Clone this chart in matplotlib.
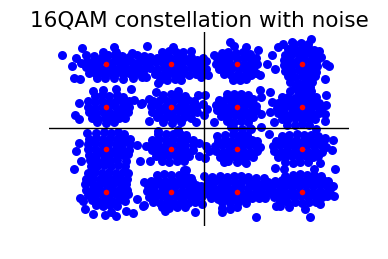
import matplotlib
matplotlib.use('Agg')
import matplotlib.pyplot as plt

# ideal 16QAM symbols (I, Q)
sym_i = [-3, -1, 1, 3, -3, -1, 1, 3, -3, -1, 1, 3, -3, -1, 1, 3]
sym_q = [3, 3, 3, 3, 1, 1, 1, 1, -1, -1, -1, -1, -3, -3, -3, -3]

# received samples, as offsets from their symbol
noise_m3_p3 = [(-0.36,0.40),(-0.12,0.36),(0.06,0.42),(0.27,0.37),(0.47,0.41),(0.70,0.36),(0.93,0.42),(1.15,0.38),
    (-0.60,0.14),(-0.41,0.10),(-0.19,0.15),(0.01,0.09),(0.21,0.13),(0.42,0.11),(0.61,0.15),(0.80,0.09),(1.01,0.13),(1.20,0.10),
    (-0.63,-0.13),(-0.43,-0.17),(-0.21,-0.12),(-0.02,-0.16),(0.18,-0.13),(0.39,-0.18),(0.58,-0.12),(0.79,-0.16),(0.99,-0.14),(1.19,-0.18),
    (-0.52,-0.40),(-0.31,-0.44),(-0.09,-0.40),(0.11,-0.43),(0.31,-0.39),(0.51,-0.44),(0.71,-0.41),(0.91,-0.43),(1.12,-0.40),
    (-0.28,-0.64),(-0.04,-0.66),(0.24,-0.63),(0.52,-0.67),(0.83,-0.64),(1.10,-0.62),
    (-1.35,0.42),(-0.74,0.77),(-0.94,0.30),(-1.04,-0.09),(-0.99,-0.63),(-0.79,-0.67),(0.23,0.81),(0.80,0.55),
    (0.30,0.58),(-0.10,0.60),(-0.62,0.45),(-0.78,0.05)]
noise_m1_p3 = [(-0.30,0.58),(-0.08,0.62),(0.14,0.57),(0.36,0.60),
    (-0.66,0.34),(-0.45,0.30),(-0.24,0.36),(-0.03,0.31),(0.18,0.35),(0.40,0.30),(0.60,0.33),(0.78,0.22),
    (-0.68,0.06),(-0.47,0.09),(-0.26,0.04),(-0.05,0.08),(0.16,0.05),(0.37,0.09),(0.58,0.04),(0.78,0.07),(0.92,0.02),
    (-0.65,-0.19),(-0.44,-0.23),(-0.23,-0.18),(-0.02,-0.22),(0.19,-0.19),(0.40,-0.23),(0.61,-0.18),(0.82,-0.21),(0.93,-0.30),
    (-0.50,-0.46),(-0.30,-0.50),(-0.09,-0.45),(0.12,-0.49),(0.33,-0.46),(0.54,-0.50),(0.74,-0.45),
    (-0.35,-0.72),(-0.12,-0.76),(0.10,-0.70),(0.30,-0.73),
    (-0.74,0.86),(0.06,0.81),(1.06,-0.20),(-0.40,-0.90),(0.60,0.62),(0.98,0.30),(0.90,-0.62),(-0.78,-0.62)]
noise_p1_p3 = [(-0.45,0.52),(-0.25,0.58),(-0.02,0.55),(0.20,0.57),(0.42,0.50),
    (-0.60,0.30),(-0.40,0.27),(-0.19,0.32),(0.02,0.28),(0.23,0.31),(0.44,0.27),(0.60,0.30),
    (-0.62,0.03),(-0.41,0.06),(-0.20,0.01),(0.01,0.05),(0.22,0.02),(0.43,0.06),(0.62,0.02),
    (-0.55,-0.21),(-0.34,-0.24),(-0.13,-0.19),(0.08,-0.23),(0.29,-0.20),(0.50,-0.24),(0.60,-0.40),
    (-0.38,-0.47),(-0.17,-0.50),(0.04,-0.46),(0.25,-0.49),(0.45,-0.52),
    (-0.12,-0.72),(0.10,-0.76),(0.30,-0.70),
    (-0.20,1.05),(-0.08,0.86),(0.28,0.81),(0.94,0.03),(-0.95,0.14),(-1.00,-0.33),(-0.88,-0.50),
    (-1.05,0.03),(0.72,-0.52),(0.65,0.66),(-0.70,0.45)]
noise_p3_p3 = [(-0.25,0.95),(-0.03,0.98),(0.19,0.94),
    (-0.42,0.70),(-0.22,0.74),(0.00,0.70),(0.22,0.73),(0.38,0.68),
    (-0.52,0.45),(-0.31,0.48),(-0.10,0.43),(0.11,0.47),(0.32,0.44),(0.46,0.48),
    (-0.56,0.19),(-0.35,0.22),(-0.14,0.17),(0.07,0.21),(0.28,0.18),(0.46,0.22),
    (-0.55,-0.05),(-0.34,-0.08),(-0.13,-0.03),(0.08,-0.07),(0.29,-0.04),(0.46,-0.08),
    (-0.50,-0.31),(-0.29,-0.34),(-0.08,-0.29),(0.13,-0.33),(0.34,-0.30),(0.45,-0.36),
    (-0.42,-0.57),(-0.21,-0.60),(0.00,-0.55),(0.21,-0.59),(0.40,-0.56),
    (-0.35,-0.83),(-0.12,-0.86),(0.10,-0.82),(0.30,-0.85),
    (-0.20,-1.08),(0.05,-1.10),(0.25,-1.06),
    (-0.74,0.81),(-0.58,0.97),(-0.31,1.05),(0.28,1.20),(0.74,0.03),(0.82,-0.09),(-0.92,0.42),
    (-0.82,-0.20),(0.60,0.35),(0.70,-0.70),(0.52,0.62)]
noise_m3_p1 = [(-0.35,0.50),(-0.12,0.54),(0.10,0.49),(0.32,0.53),(0.52,0.48),
    (-0.55,0.25),(-0.34,0.22),(-0.13,0.27),(0.08,0.21),(0.29,0.26),(0.50,0.22),(0.70,0.25),
    (-0.56,-0.01),(-0.35,-0.04),(-0.14,0.01),(0.07,-0.03),(0.28,0.02),(0.49,-0.04),(0.70,0.00),
    (-0.52,-0.27),(-0.31,-0.30),(-0.10,-0.26),(0.11,-0.29),(0.32,-0.25),(0.53,-0.30),(0.68,-0.26),
    (-0.45,-0.53),(-0.24,-0.56),(-0.03,-0.52),(0.18,-0.55),(0.39,-0.52),(0.58,-0.55),
    (-0.28,-0.74),(0.00,-0.77),(0.25,-0.73),
    (-0.41,0.72),(-0.10,0.81),(0.30,0.85),(0.77,0.84),(-0.82,0.17),(-0.95,-0.41),(-0.84,-0.59),
    (1.10,0.17),(0.86,0.30)]
noise_m1_p1 = [(-0.25,0.56),(-0.02,0.60),(0.20,0.55),(0.42,0.52),
    (-0.55,0.28),(-0.34,0.32),(-0.13,0.27),(0.08,0.31),(0.29,0.28),(0.50,0.32),(0.70,0.27),
    (-0.62,0.02),(-0.41,0.05),(-0.20,0.00),(0.01,0.04),(0.22,0.01),(0.43,0.05),(0.64,0.01),(0.80,0.04),
    (-0.60,-0.23),(-0.39,-0.26),(-0.18,-0.21),(0.03,-0.25),(0.24,-0.22),(0.45,-0.26),(0.66,-0.22),(0.80,-0.27),
    (-0.45,-0.49),(-0.24,-0.53),(-0.03,-0.48),(0.18,-0.52),(0.39,-0.49),(0.60,-0.53),
    (-0.25,-0.73),(0.02,-0.76),(0.28,-0.72),
    (-0.93,0.14),(-0.70,0.38),(-0.47,0.69),(0.19,0.76),(0.81,0.53),(0.96,0.14),(1.01,-0.40),
    (0.75,-0.72),(-0.68,-0.65)]
noise_p1_p1 = [(-0.30,0.58),(-0.08,0.62),(0.14,0.58),(0.34,0.55),
    (-0.55,0.32),(-0.34,0.36),(-0.13,0.31),(0.08,0.35),(0.29,0.32),(0.50,0.36),
    (-0.62,0.07),(-0.41,0.10),(-0.20,0.05),(0.01,0.09),(0.22,0.06),(0.43,0.10),(0.60,0.05),
    (-0.60,-0.17),(-0.39,-0.20),(-0.18,-0.15),(0.03,-0.19),(0.24,-0.16),(0.45,-0.20),(0.58,-0.14),
    (-0.48,-0.43),(-0.27,-0.46),(-0.06,-0.41),(0.15,-0.45),(0.36,-0.42),(0.50,-0.47),
    (-0.30,-0.69),(-0.08,-0.72),(0.14,-0.68),(0.34,-0.71),
    (-0.90,-0.09),(0.73,0.77),(0.76,0.45),(-0.08,-1.03),(0.17,-1.06),(0.43,-1.03),(-0.98,0.53),
    (0.75,-0.35),(-0.70,-0.70)]
noise_p3_p1 = [(-0.35,0.72),(-0.12,0.76),(0.10,0.72),(0.28,0.74),
    (-0.62,0.44),(-0.41,0.48),(-0.20,0.43),(0.01,0.47),(0.22,0.44),(0.43,0.48),
    (-0.72,0.19),(-0.51,0.22),(-0.30,0.17),(-0.09,0.21),(0.12,0.18),(0.33,0.22),(0.52,0.17),
    (-0.76,-0.05),(-0.55,-0.08),(-0.34,-0.03),(-0.13,-0.07),(0.08,-0.04),(0.29,-0.08),(0.50,-0.03),(0.60,-0.10),
    (-0.72,-0.31),(-0.51,-0.34),(-0.30,-0.29),(-0.09,-0.33),(0.12,-0.30),(0.33,-0.34),(0.52,-0.30),
    (-0.62,-0.57),(-0.41,-0.60),(-0.20,-0.55),(0.01,-0.59),(0.22,-0.56),(0.42,-0.60),
    (-0.45,-0.84),(-0.22,-0.87),(0.00,-0.83),(0.22,-0.86),
    (-0.97,0.69),(-0.92,0.22),(-0.97,-0.25),(0.74,0.56),(0.74,0.06),(0.72,-0.33),(0.72,-0.69),
    (-0.85,-0.70),(0.45,-1.05)]
noise_m3_m1 = [(-0.30,0.76),(-0.08,0.80),(0.14,0.77),(0.36,0.79),(0.55,0.72),
    (-0.52,0.50),(-0.31,0.54),(-0.10,0.49),(0.11,0.53),(0.32,0.50),(0.53,0.54),(0.74,0.50),
    (-0.55,0.25),(-0.34,0.28),(-0.13,0.23),(0.08,0.27),(0.29,0.24),(0.50,0.28),(0.74,0.24),
    (-0.56,-0.01),(-0.35,0.02),(-0.14,-0.03),(0.07,0.01),(0.28,-0.02),(0.49,0.02),(0.70,-0.02),
    (-0.53,-0.25),(-0.32,-0.28),(-0.11,-0.23),(0.10,-0.27),(0.31,-0.24),(0.52,-0.28),(0.66,-0.22),
    (-0.50,-0.51),(-0.29,-0.54),(-0.08,-0.49),(0.13,-0.53),(0.34,-0.50),(0.60,-0.54),
    (-0.48,-0.77),(-0.27,-0.80),(-0.06,-0.75),(0.15,-0.79),(0.36,-0.76),(0.58,-0.80),
    (-0.82,0.30),(-0.92,-0.09),(-0.77,-0.56),(-1.00,-0.91),(1.03,-0.56),(0.94,0.22),(-0.60,0.78)]
noise_m1_m1 = [(-0.40,0.70),(-0.18,0.74),(0.04,0.70),(0.26,0.73),(0.46,0.68),
    (-0.58,0.44),(-0.37,0.48),(-0.16,0.43),(0.05,0.47),(0.26,0.44),(0.47,0.48),(0.66,0.44),
    (-0.62,0.19),(-0.41,0.22),(-0.20,0.17),(0.01,0.21),(0.22,0.18),(0.43,0.22),(0.66,0.18),
    (-0.60,-0.05),(-0.39,-0.08),(-0.18,-0.03),(0.03,-0.07),(0.24,-0.04),(0.45,-0.08),(0.66,-0.04),
    (-0.48,-0.31),(-0.27,-0.34),(-0.06,-0.29),(0.15,-0.33),(0.36,-0.30),(0.55,-0.34),
    (-0.30,-0.55),(-0.06,-0.58),(0.18,-0.54),(0.40,-0.57),
    (-0.42,0.84),(0.86,-0.33),(0.45,-0.98),(-0.65,-0.55),(0.85,0.30),(0.20,0.92),(-0.78,0.15)]
noise_p1_m1 = [(-0.35,0.66),(-0.12,0.70),(0.10,0.68),(0.32,0.65),
    (-0.58,0.40),(-0.37,0.44),(-0.16,0.39),(0.05,0.43),(0.26,0.40),(0.47,0.44),(0.62,0.38),
    (-0.66,0.15),(-0.45,0.18),(-0.24,0.13),(-0.03,0.17),(0.18,0.14),(0.39,0.18),(0.60,0.14),(0.72,0.10),
    (-0.64,-0.09),(-0.43,-0.12),(-0.22,-0.07),(-0.01,-0.11),(0.20,-0.08),(0.41,-0.12),(0.62,-0.08),
    (-0.52,-0.35),(-0.31,-0.38),(-0.10,-0.33),(0.11,-0.37),(0.32,-0.34),(0.50,-0.38),
    (-0.25,-0.55),(0.00,-0.58),(0.22,-0.54),
    (-0.59,0.61),(-0.85,-0.09),(-0.95,0.15),(-0.18,1.05),(0.40,1.00),(0.75,1.05),(0.30,-0.64),
    (-0.40,-0.60),(-0.96,-0.40)]
noise_p3_m1 = [(-0.60,0.64),(-0.38,0.68),(-0.16,0.72),(0.06,0.69),(0.28,0.66),(0.50,0.62),(0.70,0.55),
    (-0.80,0.40),(-0.59,0.44),(-0.38,0.39),(-0.17,0.43),(0.04,0.40),(0.25,0.44),(0.46,0.40),(0.67,0.44),
    (-0.88,0.15),(-0.67,0.18),(-0.46,0.13),(-0.25,0.17),(-0.04,0.14),(0.17,0.18),(0.38,0.14),(0.59,0.18),(0.74,0.12),
    (-0.86,-0.09),(-0.65,-0.12),(-0.44,-0.07),(-0.23,-0.11),(-0.02,-0.08),(0.19,-0.12),(0.40,-0.08),(0.61,-0.12),
    (-0.72,-0.35),(-0.51,-0.38),(-0.30,-0.33),(-0.09,-0.37),(0.12,-0.34),(0.33,-0.38),(0.50,-0.33),
    (-0.50,-0.60),(-0.28,-0.63),(-0.05,-0.59),(0.18,-0.62),
    (0.97,0.45),(0.56,-0.64),(0.36,-0.95),(1.02,-0.95),(-0.82,-0.88),(0.92,-0.05),(-0.55,-0.95),(-1.00,0.70)]
noise_m3_m3 = [(-0.55,0.88),(-0.34,0.92),(-0.13,0.87),(0.08,0.91),(0.29,0.88),(0.50,0.92),(0.66,0.86),
    (-0.62,0.62),(-0.41,0.65),(-0.20,0.60),(0.01,0.64),(0.22,0.61),(0.43,0.65),(0.64,0.61),
    (-0.64,0.36),(-0.43,0.39),(-0.22,0.34),(-0.01,0.38),(0.20,0.35),(0.41,0.39),(0.62,0.35),
    (-0.62,0.10),(-0.41,0.13),(-0.20,0.08),(0.01,0.12),(0.22,0.09),(0.43,0.13),(0.64,0.09),
    (-0.55,-0.14),(-0.34,-0.17),(-0.13,-0.12),(0.08,-0.16),(0.29,-0.13),(0.50,-0.17),(0.66,-0.12),
    (-0.45,-0.40),(-0.24,-0.43),(-0.03,-0.38),(0.18,-0.42),(0.39,-0.39),(0.58,-0.43),
    (-0.32,-0.65),(-0.10,-0.68),(0.12,-0.64),(0.34,-0.67),
    (-0.79,-0.28),(-0.66,-0.83),(-0.41,-1.03),(-0.05,-1.11),(0.31,-1.14),(0.61,-0.91),(0.82,-1.02),
    (1.12,-0.67),(0.94,-0.33),(-0.72,-0.45),(0.15,-0.95)]
noise_m1_m3 = [(-0.45,0.78),(-0.22,0.82),(0.00,0.78),(0.22,0.80),(0.44,0.74),
    (-0.62,0.52),(-0.41,0.56),(-0.20,0.51),(0.01,0.55),(0.22,0.52),(0.43,0.56),(0.64,0.52),
    (-0.72,0.27),(-0.51,0.30),(-0.30,0.25),(-0.09,0.29),(0.12,0.26),(0.33,0.30),(0.54,0.26),(0.75,0.30),(0.92,0.25),
    (-0.74,0.01),(-0.53,0.04),(-0.32,-0.01),(-0.11,0.03),(0.10,0.00),(0.31,0.04),(0.52,0.00),(0.73,0.04),(0.94,0.00),
    (-0.70,-0.23),(-0.49,-0.26),(-0.28,-0.21),(-0.07,-0.25),(0.14,-0.22),(0.35,-0.26),(0.56,-0.22),(0.77,-0.26),(0.94,-0.22),
    (-0.55,-0.49),(-0.34,-0.52),(-0.13,-0.47),(0.08,-0.51),(0.29,-0.48),(0.50,-0.52),(0.71,-0.47),
    (-0.30,-0.72),(-0.06,-0.75),(0.18,-0.71),(0.42,-0.74),
    (-0.85,-0.63),(0.72,-0.95),(0.39,1.00),(-0.20,-0.92),(0.60,0.66),(-0.85,0.45)]
noise_p1_m3 = [(-0.75,0.68),(-0.52,0.74),(-0.30,0.70),(-0.08,0.76),(0.14,0.72),(0.36,0.70),(0.58,0.64),(0.85,0.66),
    (-0.88,0.44),(-0.67,0.48),(-0.46,0.43),(-0.25,0.47),(-0.04,0.44),(0.17,0.48),(0.38,0.44),(0.59,0.46),(0.80,0.42),(0.96,0.47),
    (-0.92,0.19),(-0.71,0.22),(-0.50,0.17),(-0.29,0.21),(-0.08,0.18),(0.13,0.22),(0.34,0.18),(0.55,0.22),(0.76,0.18),(0.96,0.21),
    (-0.90,-0.05),(-0.69,-0.08),(-0.48,-0.03),(-0.27,-0.07),(-0.06,-0.04),(0.15,-0.08),(0.36,-0.04),(0.57,-0.08),(0.78,-0.04),(0.96,-0.07),
    (-0.78,-0.31),(-0.57,-0.34),(-0.36,-0.29),(-0.15,-0.33),(0.06,-0.30),(0.27,-0.34),(0.48,-0.30),(0.69,-0.32),(0.88,-0.28),
    (-0.45,-0.50),(-0.20,-0.53),(0.05,-0.49),(0.30,-0.52),
    (-0.44,-0.75),(-0.44,-0.98),(0.61,-1.17),(-1.05,-0.60),(0.02,-0.72),(-1.00,0.75),(-0.20,-0.80),(1.20,-0.66)]
noise_p3_m3 = [(-0.50,0.76),(-0.28,0.80),(-0.06,0.83),(0.16,0.80),(0.38,0.78),(0.58,0.72),
    (-0.82,0.52),(-0.61,0.56),(-0.40,0.51),(-0.19,0.55),(0.02,0.52),(0.23,0.56),(0.44,0.52),(0.65,0.55),(0.80,0.48),
    (-0.92,0.27),(-0.71,0.30),(-0.50,0.25),(-0.29,0.29),(-0.08,0.26),(0.13,0.30),(0.34,0.26),(0.55,0.30),(0.76,0.26),(0.90,0.22),
    (-0.92,0.01),(-0.71,0.04),(-0.50,-0.01),(-0.29,0.03),(-0.08,0.00),(0.13,0.04),(0.34,0.00),(0.55,0.04),(0.76,0.00),(0.88,-0.04),
    (-0.86,-0.23),(-0.65,-0.26),(-0.44,-0.21),(-0.23,-0.25),(-0.02,-0.22),(0.19,-0.26),(0.40,-0.22),(0.61,-0.25),(0.78,-0.20),
    (-0.66,-0.46),(-0.44,-0.50),(-0.22,-0.47),(0.00,-0.51),(0.22,-0.48),(0.44,-0.50),
    (0.97,0.27),(0.10,-0.83),(0.26,-1.17),(-0.66,-0.67),(0.55,-0.60),(-0.40,-0.72),(1.00,-0.20)]

noise_sets = [noise_m3_p3, noise_m1_p3, noise_p1_p3, noise_p3_p3,
              noise_m3_p1, noise_m1_p1, noise_p1_p1, noise_p3_p1,
              noise_m3_m1, noise_m1_m1, noise_p1_m1, noise_p3_m1,
              noise_m3_m3, noise_m1_m3, noise_p1_m3, noise_p3_m3]

rx_i = []
rx_q = []
for si, sq, pts in zip(sym_i, sym_q, noise_sets):
    for dx, dy in pts:
        rx_i.append(si + dx)
        rx_q.append(sq + dy)

fig = plt.figure(figsize=(3.88, 2.59), dpi=100)
ax = fig.add_axes([49/388, 1 - 226/259, 300/388, 194/259])
ax.scatter(rx_i, rx_q, s=42, c='b', linewidths=0)
ax.axhline(y=0, color='k', lw=1)
ax.axvline(x=0, color='k', lw=1)
ax.scatter(sym_i, sym_q, s=16, c='r', linewidths=0, zorder=3)
ax.set_xlim(-4.755, 4.448)
ax.set_ylim(-4.616, 4.52)
ax.axis('off')
ax.set_title('16QAM constellation with noise', fontsize=15.5, pad=4.3)
fig.savefig('out.png', dpi=100)
